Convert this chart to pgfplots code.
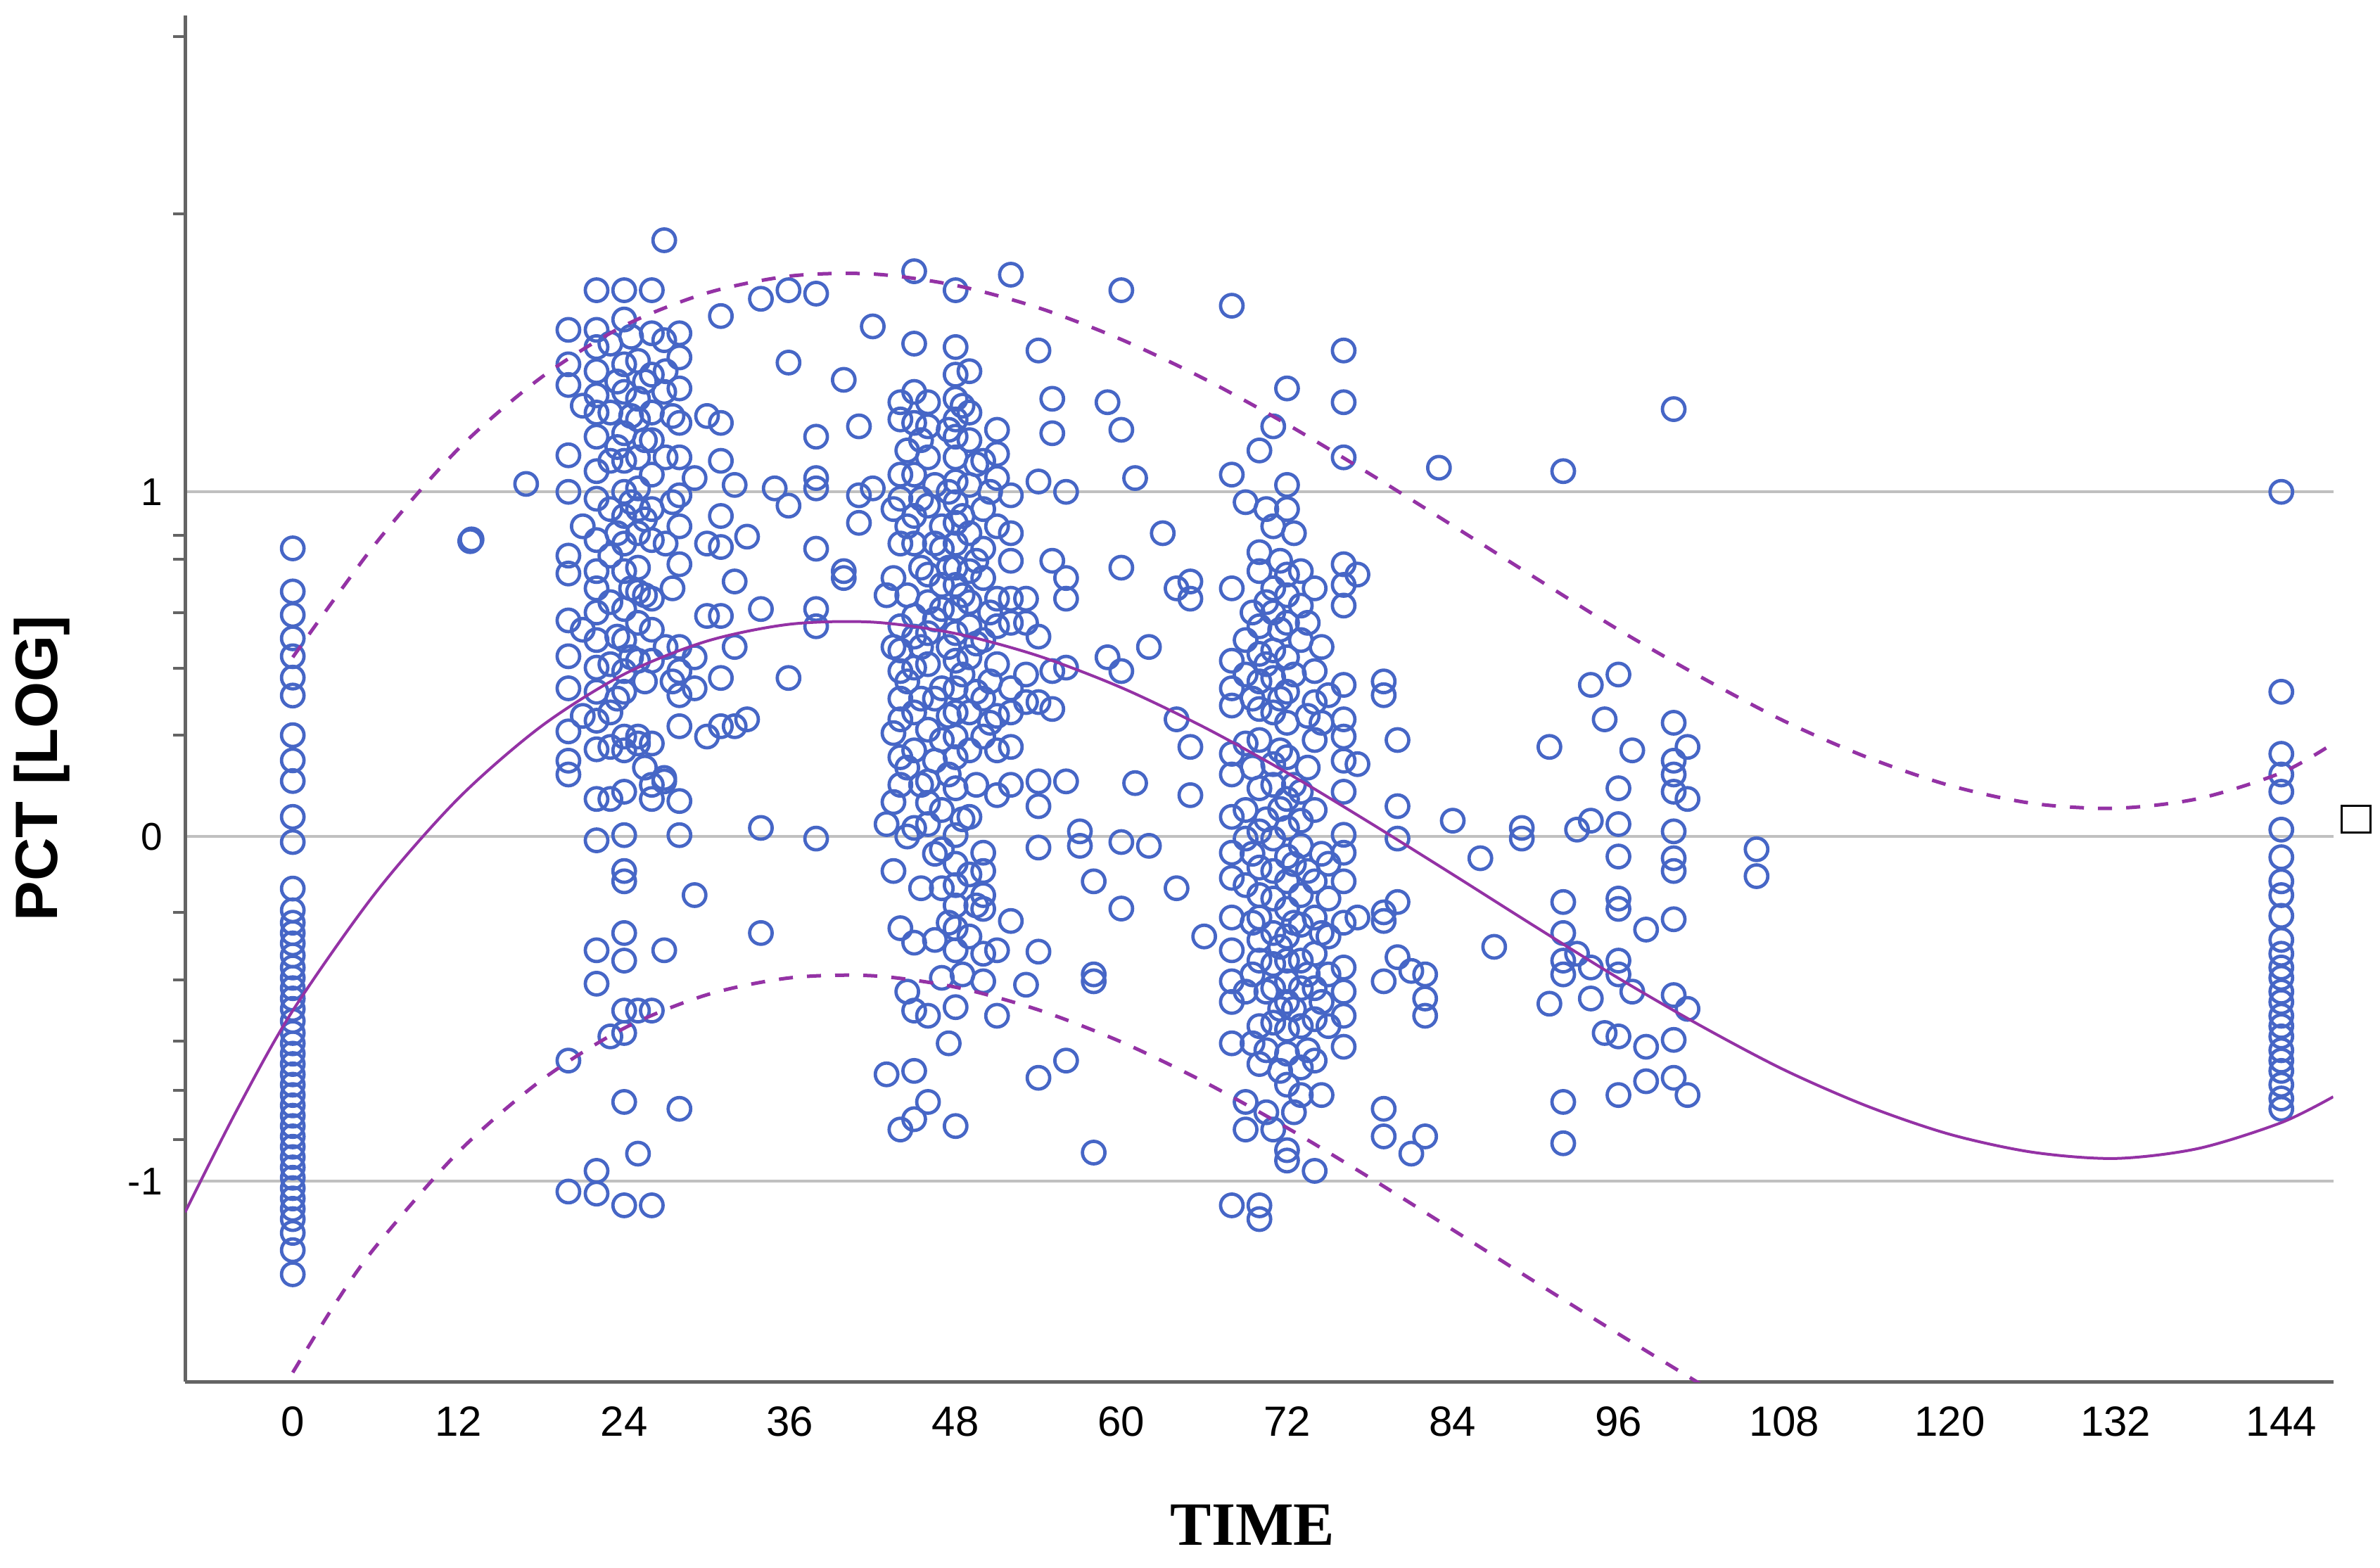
\documentclass[border=0pt]{standalone}
\usepackage{fontspec}
\setmainfont{Liberation Sans}
\newfontfamily\serifbold{Liberation Serif}
\usepackage{pgfplots}
\pgfplotsset{compat=1.18}
\definecolor{markblue}{RGB}{70,102,198}
\definecolor{fitpurple}{RGB}{148,50,165}
\definecolor{gridgray}{RGB}{192,192,192}
\definecolor{axisgray}{RGB}{100,100,100}
\begin{document}
\begin{tikzpicture}
\useasboundingbox (-52.6pt,-52.8pt) rectangle (623.9pt,392.8pt);
\begin{axis}[
  at={(0,0)}, anchor=south west,
  scale only axis, width=610.6pt, height=388.4pt,
  xmin=-7.8, xmax=147.76, ymin=-1.582, ymax=2.382,
  axis x line*=bottom, axis y line*=left,
  axis line style={axisgray, line width=1pt},
  clip mode=individual,
  /pgf/number format/assume math mode=true,
  major tick length=0pt,
  xtick={0,12,...,144},
  ytick={-1,0,1},
  yticklabels={-1,0,1},
  ymajorgrids,
  major grid style={gridgray, line width=0.8pt},
  extra y ticks={-0.879,-0.736,-0.593,-0.416,-0.221,0.294,0.488,0.649,0.805,0.873,1.806,2.32},
  extra y tick labels={},
  extra y tick style={major tick length=3.4pt, grid=none, tick align=outside, tick style={axisgray, line width=0.8pt}},
  xticklabel style={font=\fontsize{12}{14}\selectfont, yshift=-3.6pt},
  yticklabel style={font=\fontsize{11}{13}\selectfont, xshift=-2.9pt},
  xlabel={TIME},
  xlabel style={at={(axis description cs:0.497,-0.105)}, anchor=center, font=\serifbold\bfseries\fontsize{17.5}{20}\selectfont},
  ylabel={PCT [LOG]},
  ylabel style={at={(axis description cs:-0.0665,0.449)}, anchor=center, font=\bfseries\fontsize{17}{20}\selectfont},
]
\addplot[only marks, mark=o, mark size=3.2pt, mark options={markblue, line width=0.95pt}] coordinates {
(0,0.836)(0,0.711)(0,0.643)(0,0.575)(0,0.523)(0,0.461)(0,0.409)(0,0.294)(0,0.221)(0,0.161)(0,0.057)(0,-0.016)(0,-0.151)(0,-0.214)(0,-0.25)(0,-0.28)(0,-0.31)(0,-0.345)(0,-0.38)(0,-0.41)(0,-0.44)(0,-0.47)(0,-0.50)(0,-0.535)(0,-0.57)(0,-0.60)(0,-0.63)(0,-0.66)(0,-0.69)(0,-0.72)(0,-0.75)(0,-0.78)(0,-0.81)(0,-0.84)(0,-0.87)(0,-0.90)(0,-0.93)(0,-0.96)(0,-0.99)(0,-1.02)(0,-1.05)(0,-1.08)(0,-1.11)(0,-1.15)(0,-1.20)(0,-1.27)
(12.85,0.857)(12.95,0.862)(16.9,1.023)
(19.96,1.47)(19.96,1.37)(19.96,1.31)(19.96,1.106)(19.96,1.0)(19.96,0.815)(19.96,0.763)(19.96,0.627)(19.96,0.523)(19.96,0.43)(19.96,0.305)(19.96,0.22)(19.96,0.18)(19.96,-0.65)(19.96,-1.03)
(21,1.25)(21,0.90)(21,0.60)(21,0.35)
(22,1.585)(22,1.47)(22,1.42)(22,1.35)(22,1.28)(22,1.23)(22,1.16)(22,1.06)(22,0.98)(22,0.86)(22,0.77)(22,0.72)(22,0.65)(22,0.57)(22,0.49)(22,0.42)(22,0.336)(22,0.253)(22,0.109)(22,-0.011)(22,-0.33)(22,-0.427)(22,-0.97)(22,-1.036)
(23,1.43)(23,1.23)(23,1.09)(23,0.95)(23,0.815)(23,0.68)(23,0.50)(23,0.36)(23,0.26)(23,0.109)(23,-0.58)
(23.5,1.32)(23.5,1.13)(23.5,0.88)(23.5,0.58)(23.5,0.40)
(24,1.585)(24,1.50)(24,1.37)(24,1.29)(24,1.17)(24,1.09)(24,1.0)(24,0.93)(24,0.85)(24,0.77)(24,0.66)(24,0.57)(24,0.48)(24,0.42)(24,0.29)(24,0.25)(24,0.13)(24,0.004)(24,-0.1)(24,-0.13)(24,-0.28)(24,-0.36)(24,-0.505)(24,-0.57)(24,-0.77)(24,-1.07)
(24.5,1.45)(24.5,1.22)(24.5,0.97)(24.5,0.72)(24.5,0.52)
(25,1.38)(25,1.27)(25,1.21)(25,1.10)(25,1.01)(25,0.95)(25,0.88)(25,0.78)(25,0.71)(25,0.62)(25,0.51)(25,0.29)(25,0.27)(25,-0.505)(25,-0.92)
(25.5,1.32)(25.5,1.15)(25.5,0.92)(25.5,0.70)(25.5,0.45)(25.5,0.20)
(26,1.585)(26,1.46)(26,1.34)(26,1.23)(26,1.15)(26,1.05)(26,0.95)(26,0.86)(26,0.69)(26,0.60)(26,0.51)(26,0.27)(26,0.15)(26,0.109)(26,-0.505)(26,-1.07)
(26.9,1.73)(26.9,1.44)(26.9,1.29)(26.9,0.17)(26.9,0.16)(26.9,-0.33)
(27,1.35)(27,1.10)(27,0.85)(27,0.55)(27.5,1.22)(27.5,0.97)(27.5,0.72)(27.5,0.45)
(28,1.46)(28,1.39)(28,1.30)(28,1.20)(28,1.10)(28,0.99)(28,0.90)(28,0.79)(28,0.55)(28,0.48)(28,0.41)(28,0.32)(28,0.103)(28,0.004)(28,-0.79)
(29.1,1.04)(29.1,0.52)(29.1,0.43)(29.1,-0.17)
(30,1.22)(30,0.85)(30,0.64)(30,0.29)
(31,1.51)(31,1.20)(31,1.09)(31,0.93)(31,0.84)(31,0.64)(31,0.46)(31,0.32)
(32,1.02)(32,0.74)(32,0.55)(32,0.32)
(32.9,0.87)(32.9,0.34)
(33.9,1.56)(33.9,0.66)(33.9,0.025)(33.9,-0.28)
(34.9,1.01)
(35.9,1.585)(35.9,1.375)(35.9,0.96)(35.9,0.46)
(37.9,1.575)(37.9,1.16)(37.9,1.04)(37.9,1.01)(37.9,0.835)(37.9,0.66)(37.9,0.61)(37.9,-0.006)
(39.9,1.325)(39.9,0.77)(39.9,0.75)
(41,1.19)(41,0.99)(41,0.91)
(42,1.48)(42,1.01)
(43,0.70)(43,0.036)(43,-0.69)
(43.5,0.95)(43.5,0.75)(43.5,0.55)(43.5,0.30)(43.5,0.10)(43.5,-0.10)
(44,1.26)(44,1.21)(44,1.05)(44,0.98)(44,0.85)(44,0.61)(44,0.54)(44,0.48)(44,0.40)(44,0.34)(44,0.23)(44,0.15)(44,-0.266)(44,-0.85)
(44.5,1.12)(44.5,0.90)(44.5,0.70)(44.5,0.45)(44.5,0.20)(44.5,0.0)(44.5,-0.45)
(45,1.64)(45,1.43)(45,1.29)(45,1.20)(45,1.05)(45,0.93)(45,0.85)(45,0.64)(45,0.58)(45,0.49)(45,0.36)(45,0.25)(45,0.025)(45,-0.308)(45,-0.505)(45,-0.68)(45,-0.82)
(45.5,1.15)(45.5,0.98)(45.5,0.78)(45.5,0.55)(45.5,0.40)(45.5,0.15)(45.5,-0.15)
(46,1.26)(46,1.19)(46,1.10)(46,0.96)(46,0.76)(46,0.68)(46,0.59)(46,0.50)(46,0.31)(46,0.16)(46,0.098)(46,0.036)(46,-0.52)(46,-0.77)
(46.5,1.02)(46.5,0.85)(46.5,0.63)(46.5,0.40)(46.5,0.22)(46.5,-0.05)(46.5,-0.30)
(47,0.90)(47,0.835)(47,0.73)(47,0.66)(47,0.43)(47,0.28)(47,0.077)(47,-0.037)(47,-0.15)(47,-0.41)
(47.5,1.18)(47.5,1.00)(47.5,0.78)(47.5,0.55)(47.5,0.35)(47.5,0.18)(47.5,-0.25)(47.5,-0.60)
(48,1.585)(48,1.42)(48,1.34)(48,1.27)(48,1.21)(48,1.16)(48,1.10)(48,1.03)(48,0.97)(48,0.91)(48,0.85)(48,0.78)(48,0.73)(48,0.66)(48,0.59)(48,0.51)(48,0.43)(48,0.36)(48,0.29)(48,0.23)(48,0.14)(48,0.004)(48,-0.079)(48,-0.141)(48,-0.2)(48,-0.266)(48,-0.33)(48,-0.495)(48,-0.84)
(48.5,1.25)(48.5,0.93)(48.5,0.70)(48.5,0.47)(48.5,0.05)(48.5,-0.40)
(49,1.35)(49,1.23)(49,1.15)(49,1.02)(49,0.88)(49,0.77)(49,0.68)(49,0.61)(49,0.52)(49,0.36)(49,0.25)(49,0.057)(49,-0.11)(49,-0.29)
(49.5,1.08)(49.5,0.80)(49.5,0.56)(49.5,0.42)(49.5,0.15)(49.5,-0.20)
(50,1.09)(50,0.95)(50,0.835)(50,0.75)(50,0.57)(50,0.40)(50,0.29)(50,-0.047)(50,-0.1)(50,-0.17)(50,-0.21)(50,-0.34)(50,-0.42)
(50.5,1.00)(50.5,0.65)(50.5,0.45)(50.5,0.33)
(51,1.18)(51,1.11)(51,1.04)(51,0.90)(51,0.69)(51,0.61)(51,0.50)(51,0.35)(51,0.25)(51,0.12)(51,-0.33)(51,-0.52)
(52,1.63)(52,0.99)(52,0.88)(52,0.80)(52,0.69)(52,0.62)(52,0.43)(52,0.36)(52,0.26)(52,0.15)(52,-0.245)
(53.1,0.69)(53.1,0.62)(53.1,0.47)(53.1,0.39)(53.1,-0.43)
(54,1.41)(54,1.03)(54,0.58)(54,0.39)(54,0.16)(54,0.088)(54,-0.032)(54,-0.334)(54,-0.70)
(55,1.27)(55,1.17)(55,0.80)(55,0.48)(55,0.37)
(56,1.0)(56,0.75)(56,0.69)(56,0.49)(56,0.16)(56,-0.65)
(57,0.015)(57,-0.027)
(58,-0.13)(58,-0.40)(58,-0.42)(58,-0.917)
(59,1.26)(59,0.52)
(60,1.585)(60,1.18)(60,0.78)(60,0.48)(60,-0.016)(60,-0.209)
(61,1.04)(61,0.155)
(62,0.55)(62,-0.027)
(63,0.88)
(64,0.72)(64,0.34)(64,-0.15)
(65,0.74)(65,0.69)(65,0.26)(65,0.12)
(66,-0.29)
(68,1.54)(68,1.05)(68,0.72)(68,0.51)(68,0.43)(68,0.38)(68,0.24)(68,0.18)(68,0.057)(68,-0.047)(68,-0.12)(68,-0.235)(68,-0.33)(68,-0.42)(68,-0.48)(68,-0.60)(68,-1.07)
(69,0.97)(69,0.57)(69,0.47)(69,0.27)(69,0.077)(69,-0.006)(69,-0.141)(69,-0.45)(69,-0.77)(69,-0.85)
(69.5,0.65)(69.5,0.40)(69.5,0.20)(69.5,-0.05)(69.5,-0.25)(69.5,-0.40)(69.5,-0.60)
(70,1.12)(70,0.825)(70,0.77)(70,0.61)(70,0.53)(70,0.45)(70,0.37)(70,0.28)(70,0.14)(70,0.015)(70,-0.09)(70,-0.17)(70,-0.235)(70,-0.30)(70,-0.36)(70,-0.55)(70,-0.66)(70,-1.07)(70,-1.11)
(70.5,0.95)(70.5,0.68)(70.5,0.50)(70.5,0.05)(70.5,-0.45)(70.5,-0.62)(70.5,-0.80)
(71,1.19)(71,0.90)(71,0.72)(71,0.65)(71,0.54)(71,0.46)(71,0.36)(71,0.21)(71,0.15)(71,-0.006)(71,-0.1)(71,-0.18)(71,-0.28)(71,-0.37)(71,-0.44)(71,-0.54)(71,-0.85)
(71.5,0.80)(71.5,0.60)(71.5,0.40)(71.5,0.25)(71.5,0.08)(71.5,-0.32)(71.5,-0.50)(71.5,-0.68)
(72,1.30)(72,1.02)(72,0.95)(72,0.76)(72,0.70)(72,0.62)(72,0.52)(72,0.42)(72,0.33)(72,0.23)(72,0.109)(72,0.025)(72,-0.058)(72,-0.13)(72,-0.21)(72,-0.29)(72,-0.36)(72,-0.42)(72,-0.48)(72,-0.56)(72,-0.63)(72,-0.72)(72,-0.91)(72,-0.94)
(72.5,0.88)(72.5,0.47)(72.5,0.15)(72.5,-0.08)(72.5,-0.25)(72.5,-0.50)(72.5,-0.80)
(73,0.77)(73,0.67)(73,0.57)(73,0.13)(73,0.046)(73,-0.027)(73,-0.17)(73,-0.256)(73,-0.36)(73,-0.44)(73,-0.55)(73,-0.67)(73,-0.75)
(73.5,0.62)(73.5,0.35)(73.5,0.20)(73.5,-0.10)(73.5,-0.40)(73.5,-0.62)
(74,0.72)(74,0.48)(74,0.39)(74,0.28)(74,0.077)(74,-0.13)(74,-0.235)(74,-0.34)(74,-0.44)(74,-0.53)(74,-0.65)(74,-0.97)
(74.5,0.55)(74.5,0.33)(74.5,-0.05)(74.5,-0.28)(74.5,-0.48)(74.5,-0.75)
(75,0.41)(75,-0.079)(75,-0.18)(75,-0.29)(75,-0.40)(75,-0.55)
(76.1,1.41)(76.1,1.26)(76.1,1.10)(76.1,0.79)(76.1,0.73)(76.1,0.67)(76.1,0.44)(76.1,0.34)(76.1,0.29)(76.1,0.22)(76.1,0.13)(76.1,0.005)(76.1,-0.047)(76.1,-0.13)(76.1,-0.25)(76.1,-0.38)(76.1,-0.45)(76.1,-0.52)(76.1,-0.61)
(77.1,0.76)(77.1,0.21)(77.1,-0.235)
(79,0.45)(79,0.41)(79,-0.22)(79,-0.245)(79,-0.42)(79,-0.79)(79,-0.87)
(80,0.28)(80,0.088)(80,-0.006)(80,-0.19)(80,-0.35)
(81,-0.39)(81,-0.92)
(82,-0.40)(82,-0.47)(82,-0.52)(82,-0.87)
(83,1.07)(84,0.046)(86,-0.063)(87,-0.32)(89,0.025)(89,-0.006)
(91,0.26)(91,-0.485)
(92,1.06)(92,-0.19)(92,-0.28)(92,-0.36)(92,-0.40)(92,-0.77)(92,-0.89)
(93,0.02)(93,-0.34)
(94,0.44)(94,0.046)(94,-0.38)(94,-0.47)
(95,0.34)(95,-0.57)
(96,0.47)(96,0.14)(96,0.036)(96,-0.058)(96,-0.18)(96,-0.21)(96,-0.36)(96,-0.40)(96,-0.58)(96,-0.75)
(97,0.25)(97,-0.45)
(98,-0.27)(98,-0.61)(98,-0.71)
(100,1.24)(100,0.33)(100,0.22)(100,0.18)(100,0.13)(100,0.015)(100,-0.063)(100,-0.1)(100,-0.24)(100,-0.46)(100,-0.59)(100,-0.70)
(101,0.26)(101,0.109)(101,-0.50)(101,-0.75)
(106,-0.037)(106,-0.115)
(144,1.0)(144,0.42)(144,0.24)(144,0.18)(144,0.13)(144,0.02)(144,-0.06)(144,-0.13)(144,-0.17)(144,-0.23)(144,-0.30)(144,-0.34)(144,-0.38)(144,-0.41)(144,-0.45)(144,-0.48)(144,-0.52)(144,-0.55)(144,-0.58)(144,-0.62)(144,-0.65)(144,-0.68)(144,-0.72)(144,-0.76)(144,-0.79)
};
\addplot[fitpurple, line width=0.8pt, smooth] coordinates {
(-7.8,-1.09)(-4,-0.79)(0,-0.505)(6,-0.163)(12,0.111)(18,0.320)(24,0.471)(30,0.567)(36,0.616)(42,0.622)(48,0.589)(54,0.524)(60,0.432)(66,0.317)(72,0.185)(78,0.040)(84,-0.110)(90,-0.262)(96,-0.411)(102,-0.550)(108,-0.677)(114,-0.782)(120,-0.864)(126,-0.916)(132,-0.934)(138,-0.905)(144,-0.830)(147.76,-0.755)
};
\addplot[fitpurple, line width=1pt, dash pattern=on 4pt off 4pt, smooth] coordinates {
(0,0.52)(6,0.85)(12,1.125)(18,1.332)(24,1.482)(30,1.577)(36,1.626)(42,1.632)(48,1.599)(54,1.534)(60,1.442)(66,1.328)(72,1.196)(78,1.052)(84,0.902)(90,0.750)(96,0.600)(102,0.462)(108,0.335)(114,0.230)(120,0.148)(126,0.096)(132,0.082)(138,0.110)(144,0.185)(147.76,0.27)
};
\addplot[fitpurple, line width=1pt, dash pattern=on 4pt off 4pt, smooth] coordinates {
(0,-1.555)(3,-1.36)(6,-1.19)(12,-0.915)(18,-0.707)(24,-0.556)(30,-0.459)(36,-0.410)(42,-0.404)(48,-0.437)(54,-0.503)(60,-0.596)(66,-0.712)(72,-0.845)(78,-0.990)(84,-1.141)(90,-1.293)(96,-1.443)(102,-1.590)(106,-1.69)
};
\node[draw=black, line width=0.6pt, minimum width=8.2pt, minimum height=7.6pt, inner sep=0pt, fill=white] at (axis description cs:1.0105,0.412) {};
\end{axis}
\end{tikzpicture}
\end{document}
